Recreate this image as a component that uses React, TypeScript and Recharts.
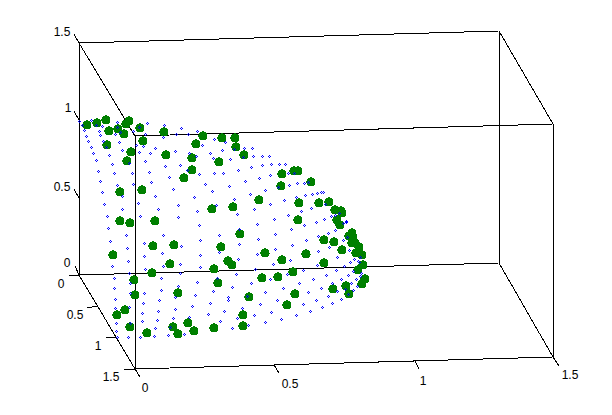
import { ScatterChart, Scatter, XAxis, YAxis, ReferenceLine } from "recharts";

type Pair = [number, number];

// positions, in plot-plane units (the projected 3D view)
const bluePairs: Pair[] = [
  [79,121],[91,120],[117,122],[147,123],[164,125],[181,128],[197,131],[82,125],[96,125],[102,126],[117,127],[139,127],
  [84,130],[99,131],[133,131],[120,132],[86,136],[100,135],[115,134],[145,134],[163,137],[176,134],[188,134],[214,139],
  [88,141],[103,141],[119,142],[136,145],[143,146],[155,148],[175,151],[189,153],[202,145],[210,153],[222,150],[91,147],
  [106,147],[122,150],[139,152],[150,153],[196,156],[213,158],[93,153],[109,155],[145,161],[165,166],[180,165],[199,174],
  [214,173],[96,160],[112,164],[129,163],[149,172],[169,177],[187,170],[205,184],[98,171],[114,173],[132,173],[151,182],
  [173,189],[194,197],[212,191],[100,181],[117,185],[133,184],[155,196],[178,205],[197,211],[216,205],[102,192],[122,196],
  [138,203],[158,209],[178,217],[104,204],[122,209],[140,216],[107,216],
  [225,142],[234,149],[244,148],[252,148],[243,157],[230,159],[253,156],[262,156],[269,156],[262,165],[271,164],[279,164],
  [285,164],[251,167],[238,170],[223,173],[288,173],[294,173],[270,175],[259,178],[245,181],[229,186],[278,187],[289,185],
  [297,183],[304,183],[308,182],[265,190],[250,194],[234,199],[296,197],[305,195],[312,194],[317,193],[321,192],[323,192],
  [284,200],[270,204],[254,209],[237,214],[301,211],[311,208],[325,204],[288,215],[331,216],[335,215],[339,213],[324,219],
  [274,219],[257,224],[239,229],[304,225],[316,222],[291,229],[275,234],[258,239],[328,233],[335,230],[343,223],[346,222],
  [346,221],[318,236],
  [108,228],[126,235],[110,241],[199,225],[219,235],[144,243],[127,248],[163,235],[181,246],[200,240],[112,266],[128,261],
  [144,256],[162,253],[180,264],[200,255],[219,252],[129,273],[145,269],[163,266],[180,273],[200,267],[217,278],[114,278],
  [130,283],[161,278],[114,288],[130,293],[144,293],[161,290],[178,286],[197,282],[213,291],[115,299],[143,303],[159,300],
  [175,297],[195,295],[210,303],[228,297],[115,308],[129,307],[142,313],[158,311],[175,309],[192,306],[208,314],[224,311],
  [116,323],[130,323],[142,321],[157,320],[173,318],[189,317],[116,331],[128,337],[140,337],[155,328],[154,336],[170,327],
  [168,335],[184,334],[117,337],
  [239,244],[292,245],[306,240],[343,240],[347,237],[329,247],[275,249],[257,254],[238,259],[290,260],[318,251],[337,257],
  [349,250],[354,259],[360,257],[358,261],[273,264],[255,269],[236,274],[303,270],[317,265],[344,266],[350,262],[336,270],
  [353,271],[359,262],[361,273],[287,274],[270,279],[251,283],[232,287],[299,283],[313,279],[326,275],[348,275],[341,279],
  [356,279],[360,276],[332,283],[351,283],[283,288],[265,292],[247,296],[228,300],[308,292],[321,288],[337,291],[328,296],
  [345,289],[357,286],[353,290],[348,294],[277,300],[260,304],[242,308],[303,304],[316,300],[332,303],[341,299],[271,312],
  [254,315],[237,318],[220,321],[296,315],[310,311],[322,307],[281,319],[265,322],[248,325],[232,328],
];

const greenPairs: Pair[] = [
  [87,125],[97,123],[106,120],[109,131],[118,129],[124,134],[126,124],[129,121],[140,128],[164,132],[203,136],[222,138],
  [143,141],[107,145],[196,144],[131,152],[166,155],[127,161],[192,158],[219,162],[192,170],[184,178],[120,192],[142,190],
  [212,209],[235,138],[236,147],[244,155],[282,174],[294,171],[298,171],[281,186],[311,182],[259,200],[233,207],[299,203],
  [319,203],[329,202],[335,210],[341,211],[342,213],[337,220],[340,225],[298,220],[120,221],[130,223],[155,221],[153,246],
  [174,245],[221,247],[113,255],[170,264],[228,261],[214,269],[152,273],[134,280],[218,283],[178,293],[135,295],[125,310],
  [117,315],[130,327],[188,323],[173,327],[214,328],[194,331],[147,333],[178,334],[240,234],[324,240],[334,242],[352,233],
  [353,237],[349,236],[355,243],[352,243],[359,247],[342,250],[356,253],[362,255],[306,254],[265,253],[232,265],[282,260],
  [324,263],[363,265],[358,270],[293,272],[278,277],[262,278],[365,279],[362,284],[346,286],[333,289],[349,294],[295,294],
  [249,297],[287,305],[243,315],[243,326],
];

const boxEdges: [Pair, Pair][] = [
  [[79,43],[499,31]],[[135,136],[553,124]],[[79,275],[499,263]],[[135,369],[553,357]],
  [[79,43],[135,136]],[[499,31],[553,124]],[[79,275],[135,369]],[[499,263],[553,357]],
  [[79,43],[79,275]],[[135,136],[135,369]],[[499,31],[499,263]],[[553,124],[553,357]],
];

const tickMarks: [Pair, Pair][] = [
  [[74,34],[79,43]],[[74,111],[79,120]],[[74,189],[79,198]],[[75,266],[79,275]],
  [[69,276],[79,275]],[[87,308],[98,306]],[[106,338],[117,337]],[[124,369],[135,369]],
  [[135,369],[140,377]],[[274,365],[279,373]],[[415,361],[419,369]],[[553,357],[559,366]],
];

const tickLabels = [
  { x: 62, y: 32, text: "1.5" },
  { x: 68, y: 108, text: "1" },
  { x: 62, y: 187, text: "0.5" },
  { x: 67, y: 263, text: "0" },
  { x: 61, y: 284, text: "0" },
  { x: 75, y: 315, text: "0.5" },
  { x: 98, y: 346, text: "1" },
  { x: 111, y: 377, text: "1.5" },
  { x: 145, y: 388, text: "0" },
  { x: 290, y: 384, text: "0.5" },
  { x: 423, y: 381, text: "1" },
  { x: 570, y: 375, text: "1.5" },
];

const toPoints = (pairs: Pair[]) => pairs.map(([x, y]) => ({ x, y }));

const BlueDot = ({ cx, cy }: any) => {
  const x = Math.round(cx);
  const y = Math.round(cy);
  return (
    <g fill="#0000ff" shapeRendering="crispEdges">
      <rect x={x} y={y - 1} width={1} height={1} />
      <rect x={x} y={y + 1} width={1} height={1} />
      <rect x={x - 1} y={y} width={1} height={1} />
      <rect x={x + 1} y={y} width={1} height={1} />
    </g>
  );
};

const GreenDot = ({ cx, cy }: any) => (
  <circle cx={cx} cy={cy} r={4.6} fill="#008000" shapeRendering="crispEdges" />
);

const TickText = ({ cx, cy, text }: any) => (
  <text
    x={cx}
    y={cy}
    textAnchor="middle"
    dominantBaseline="central"
    fontFamily="'Liberation Sans', Arial, sans-serif"
    fontSize={12}
    fill="#000"
  >
    {text}
  </text>
);

export default function App() {
  const lines = [...boxEdges, ...tickMarks];
  return (
    <div style={{ position: "absolute", left: 0, top: 0, background: "#fff" }}>
      <ScatterChart width={612} height={415} margin={{ top: 0, right: 0, bottom: 0, left: 0 }}>
        <XAxis type="number" dataKey="x" domain={[0, 612]} hide />
        <YAxis type="number" dataKey="y" domain={[0, 415]} reversed hide />
        {lines.map(([a, b], i) => (
          <ReferenceLine
            key={i}
            segment={[{ x: a[0], y: a[1] }, { x: b[0], y: b[1] }]}
            stroke="#000"
            strokeWidth={1}
            shapeRendering="crispEdges"
            ifOverflow="visible"
          />
        ))}
        <Scatter data={toPoints(greenPairs)} shape={GreenDot} isAnimationActive={false} />
        <Scatter data={toPoints(bluePairs)} shape={BlueDot} isAnimationActive={false} />
        <Scatter data={tickLabels} shape={TickText} isAnimationActive={false} />
      </ScatterChart>
    </div>
  );
}
